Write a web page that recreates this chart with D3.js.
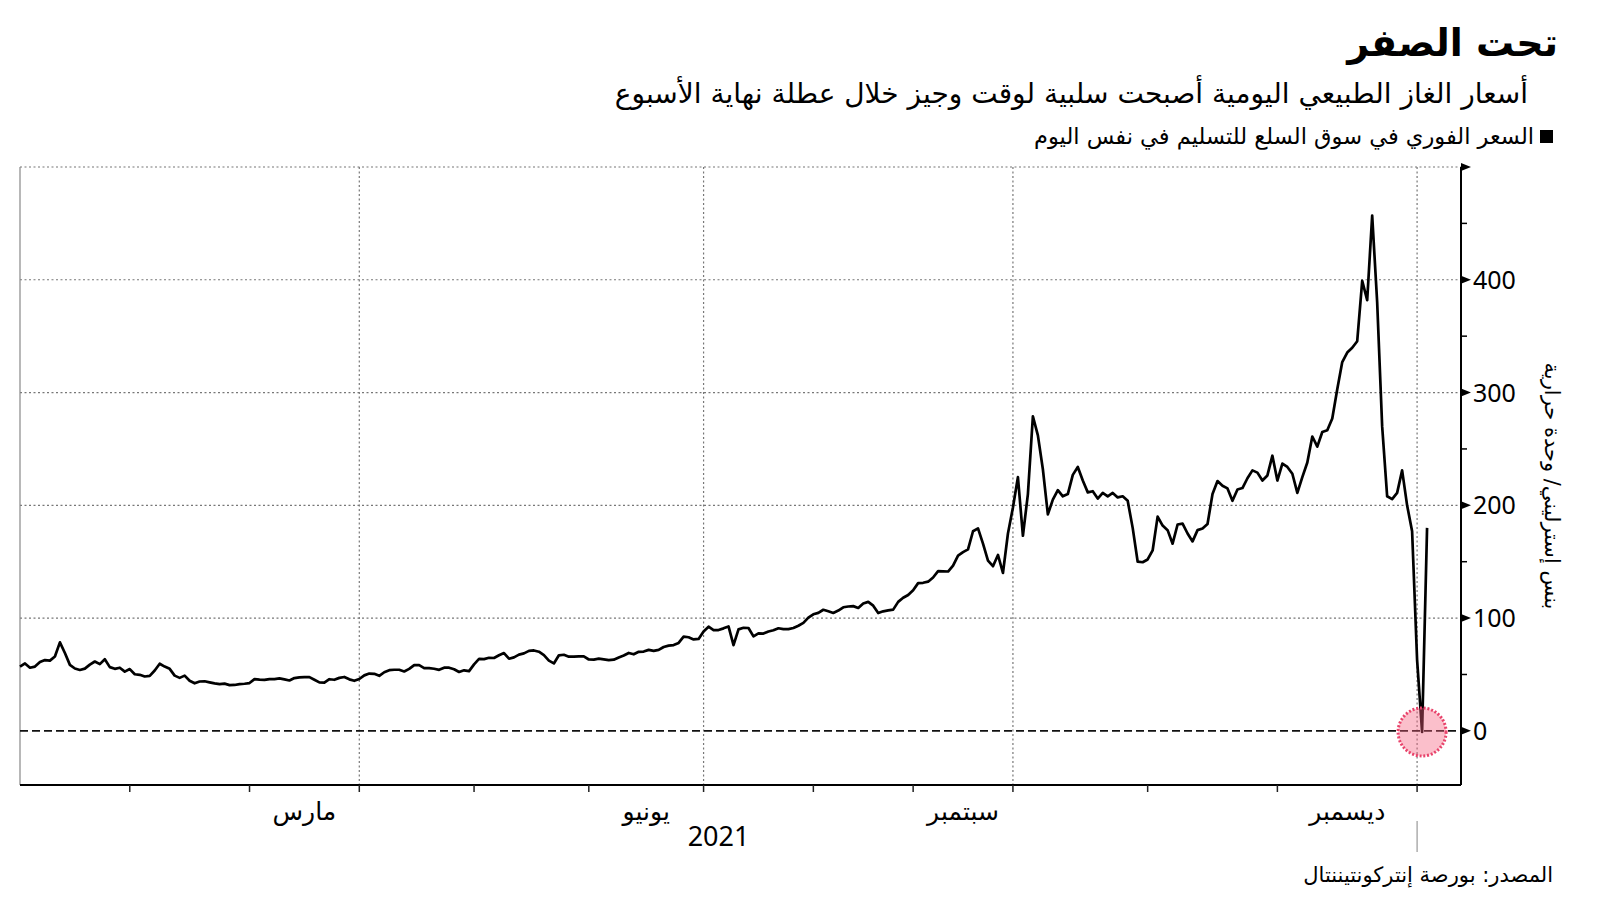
<!DOCTYPE html>
<html><head><meta charset="utf-8">
<script src="https://cdn.jsdelivr.net/npm/d3@7"></script>
<style>
body{margin:0;background:#fff;}
svg{display:block;}
text{font-family:"DejaVu Sans","Noto Sans",sans-serif;fill:#000;}
.num{font-family:"Noto Sans","Open Sans",sans-serif;}
</style></head><body>
<svg id="chart" width="1600" height="901"></svg>
<script>
// ---------- texts ----------
const titleText = "تحت الصفر";
const subtitleText = "أسعار الغاز الطبيعي اليومية أصبحت سلبية لوقت وجيز خلال عطلة نهاية الأسبوع";
const legendText = "السعر الفوري في سوق السلع للتسليم في نفس اليوم";
const sourceText = "المصدر: بورصة إنتركونتيننتال";
const yAxisTitle = "بنس إسترليني/ وحدة حرارية";
const yearLabel = "2021";

// ---------- axis data ----------
const yMajorTicks = [0, 100, 200, 300, 400, 500];
const yLabelTicks = [0, 100, 200, 300, 400];
const yMinorTicks = [50, 150, 250, 350, 450];
const yGridTicks = [100, 200, 300, 400, 500];
// index of first data point of each month (Jan 2021 ... Jan 2022)
const monthStartIndex = [0, 22, 46, 68, 91, 114, 137, 159, 179, 199, 226, 252, 280];
const quarterStartIndex = [68, 137, 199, 280];
const monthLabels = ["مارس", "يونيو", "سبتمبر", "ديسمبر"];
const monthLabelFrom = [46, 114, 179, 252];
const monthLabelTo = [68, 137, 199, 280];
const yearFrom = 0, yearTo = 280;

// ---------- series: NBP same-day spot price (pence/therm) ----------
const prices = [
57, 59.8, 56, 57, 61, 62.8, 62.3, 66, 78.5, 69,
58.5, 55.3, 54, 55.2, 58.7, 61.5, 59.2, 63.5, 56.5, 55,
56, 52.5, 54.8, 50.2, 49.7, 48.2, 48.8, 53.5, 59.5, 57,
55, 49, 47, 49, 44.5, 42.2, 43.8, 44, 43, 42.1,
41.5, 41.9, 40.6, 40.7, 41.5, 41.8, 42.4, 45.9, 45.4, 45.2,
45.9, 45.9, 46.5, 45.7, 44.7, 46.8, 47.5, 47.7, 47.7, 45.3,
43, 42.8, 45.8, 45.3, 47, 47.8, 45.7, 44.4, 46, 49.2,
50.8, 50.6, 48.8, 52, 53.8, 54.2, 54.2, 52.7, 55, 58.3,
58.3, 55.7, 55.6, 55.1, 54.1, 56, 56, 54.6, 52.2, 53.7,
53, 59, 63.8, 63.6, 64.8, 64.6, 67, 69, 64, 65.2,
67.6, 68.7, 70.9, 71.3, 70.2, 67.2, 62.3, 59.8, 67, 67.5,
65.8, 65.8, 66, 66, 63.3, 63.2, 64, 63.4, 62.8, 63.1,
65.1, 66.8, 69.1, 67.9, 70.1, 70.3, 71.8, 71, 71.8, 74.4,
75.6, 76.1, 78, 83.5, 83, 81.1, 81.5, 88.2, 92.4, 89.4,
89.4, 90.9, 92.6, 76, 90, 91.4, 91.2, 83.8, 86.5, 86.3,
88.1, 89.2, 91, 90.2, 90.2, 91.2, 93.2, 95.7, 100.4, 103.4,
104.6, 107.4, 106.1, 104.6, 106.7, 109.6, 110.3, 110.6, 109, 113,
114.4, 111, 104.5, 106, 106.8, 107.5, 114.4, 118, 120.5, 124.6,
131, 131.3, 132.3, 136, 141.6, 141.5, 141.3, 146.6, 155.4, 158.5,
161, 177, 179.5, 166, 151, 146, 156, 140, 175, 198,
225, 173, 210, 279, 262, 232, 192, 205, 213.5, 208,
210, 227, 234, 222, 211.5, 212.5, 206, 211, 208, 211,
207, 208, 204, 180, 150, 149.5, 152, 160, 190, 182,
178, 166, 183, 183.8, 175, 168, 178, 179.5, 183.5, 210,
221.5, 217.3, 215, 204, 214, 215.3, 224, 231, 229, 222,
226.5, 244, 222, 237, 234, 228, 211, 225, 238, 261,
252, 265, 266.5, 277, 303, 327, 335.5, 339.7, 345.5, 399,
382, 457, 380, 270, 208, 205.5, 211, 231, 200, 177,
63, -1, 180
];

// ---------- layout ----------
const plot = {left: 20, right: 1461, top: 167, bottom: 785};
const xDomainEnd = 288.8;
const yDomain = [-48, 500];

const svg = d3.select("#chart");
const x = d3.scaleLinear().domain([0, xDomainEnd]).range([plot.left, plot.right]);
const y = d3.scaleLinear().domain(yDomain).range([plot.bottom, plot.top]);

// title block
svg.append("text").attr("x", 1558).attr("y", 56).attr("text-anchor", "end")
  .attr("font-size", 38).attr("font-weight", "bold").text(titleText);
svg.append("text").attr("x", 1528).attr("y", 103).attr("text-anchor", "end")
  .attr("font-size", 28).text(subtitleText);
svg.append("rect").attr("x", 1540).attr("y", 130).attr("width", 13).attr("height", 13).attr("fill", "#000");
svg.append("text").attr("x", 1534).attr("y", 144).attr("text-anchor", "end")
  .attr("font-size", 22.5).text(legendText);

// horizontal grid (dotted)
svg.append("g").selectAll("line").data(yGridTicks).join("line")
  .attr("x1", plot.left).attr("x2", plot.right)
  .attr("y1", d => y(d)).attr("y2", d => y(d))
  .attr("stroke", "#777").attr("stroke-width", 1.2).attr("stroke-dasharray", "2,2.5");

// vertical grid at quarter starts
svg.append("g").selectAll("line").data(quarterStartIndex).join("line")
  .attr("x1", d => x(d)).attr("x2", d => x(d))
  .attr("y1", plot.top).attr("y2", plot.bottom)
  .attr("stroke", "#777").attr("stroke-width", 1.2).attr("stroke-dasharray", "2,2.5");

// left frame
svg.append("line").attr("x1", plot.left).attr("x2", plot.left)
  .attr("y1", plot.top).attr("y2", plot.bottom).attr("stroke", "#888").attr("stroke-width", 1.2);

// zero line
svg.append("line").attr("x1", plot.left).attr("x2", plot.right)
  .attr("y1", y(0)).attr("y2", y(0))
  .attr("stroke", "#111").attr("stroke-width", 1.6).attr("stroke-dasharray", "8,4");

// data line
const line = d3.line().x((d, i) => x(i)).y(d => y(d));
svg.append("path").datum(prices).attr("d", line)
  .attr("fill", "none").attr("stroke", "#000").attr("stroke-width", 2.7)
  .attr("stroke-linejoin", "round");

// highlight circle at minimum
const minIdx = d3.minIndex(prices);
svg.append("circle").attr("cx", x(minIdx)).attr("cy", y(prices[minIdx]))
  .attr("r", 24).attr("fill", "#f4607e").attr("fill-opacity", 0.4)
  .attr("stroke", "#e8436b").attr("stroke-width", 3).attr("stroke-dasharray", "2,1.8");

// bottom axis
svg.append("line").attr("x1", plot.left).attr("x2", plot.right)
  .attr("y1", plot.bottom).attr("y2", plot.bottom).attr("stroke", "#000").attr("stroke-width", 2);
svg.append("g").selectAll("line").data(monthStartIndex.slice(1)).join("line")
  .attr("x1", d => x(d)).attr("x2", d => x(d))
  .attr("y1", plot.bottom).attr("y2", plot.bottom + 7)
  .attr("stroke", "#222").attr("stroke-width", 1.5);
svg.append("g").selectAll("text").data(monthLabels).join("text")
  .attr("x", (d, i) => (x(monthLabelFrom[i]) + x(monthLabelTo[i])) / 2)
  .attr("y", 820).attr("text-anchor", "middle").attr("font-size", 25).text(d => d);
svg.append("text").attr("class", "num").attr("x", (x(yearFrom) + x(yearTo)) / 2).attr("y", 846)
  .attr("text-anchor", "middle").attr("font-size", 27).text(yearLabel);
svg.append("line").attr("x1", x(yearTo)).attr("x2", x(yearTo))
  .attr("y1", 821).attr("y2", 852).attr("stroke", "#999").attr("stroke-width", 1.2);

// right axis
svg.append("line").attr("x1", plot.right).attr("x2", plot.right)
  .attr("y1", plot.top).attr("y2", plot.bottom).attr("stroke", "#000").attr("stroke-width", 2);
svg.append("g").selectAll("path").data(yMajorTicks).join("path")
  .attr("d", d => `M${plot.right},${y(d) - 4}L${plot.right + 10},${y(d)}L${plot.right},${y(d) + 4}Z`)
  .attr("fill", "#000");
svg.append("g").selectAll("line").data(yMinorTicks).join("line")
  .attr("x1", plot.right).attr("x2", plot.right + 6)
  .attr("y1", d => y(d)).attr("y2", d => y(d)).attr("stroke", "#000").attr("stroke-width", 1.5);
svg.append("g").selectAll("text").data(yLabelTicks).join("text")
  .attr("class", "num").attr("x", plot.right + 12).attr("y", d => y(d) + 9)
  .attr("font-size", 25).text(d => d);

// y axis title (rotated)
svg.append("text").attr("transform", "translate(1545,486) rotate(90)")
  .attr("text-anchor", "middle").attr("font-size", 21).text(yAxisTitle);

// source
svg.append("text").attr("x", 1553).attr("y", 882).attr("text-anchor", "end")
  .attr("font-size", 21).text(sourceText);
</script>
</body></html>
